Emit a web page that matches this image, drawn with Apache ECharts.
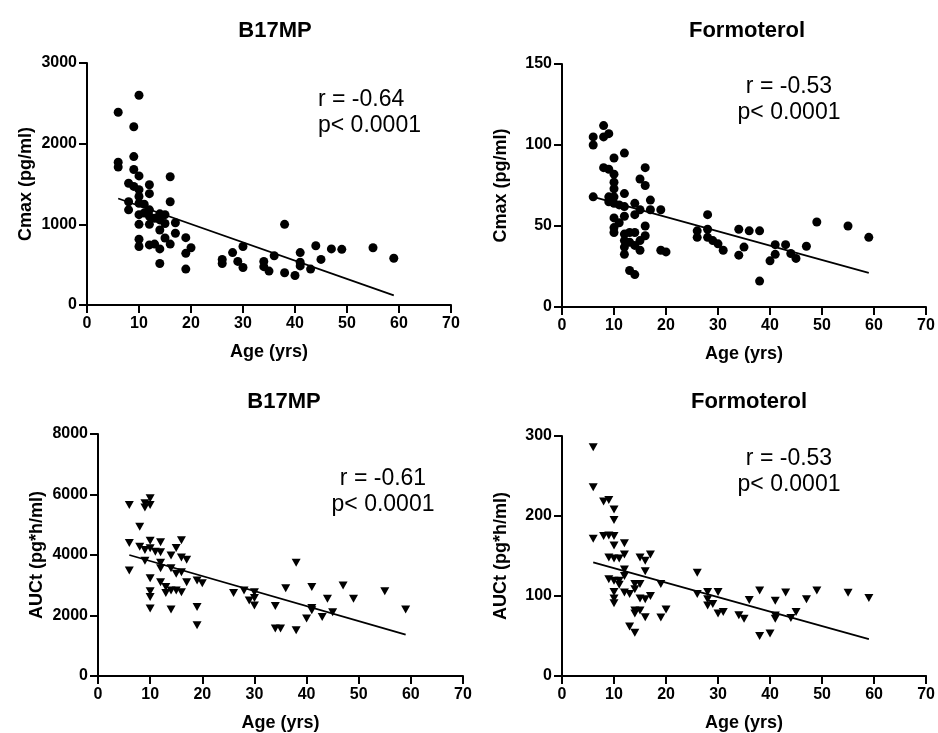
<!DOCTYPE html>
<html>
<head>
<meta charset="utf-8">
<script src="https://cdn.jsdelivr.net/npm/echarts@6/dist/echarts.min.js"></script>
<style>html,body{margin:0;padding:0;background:#fff;}#c{width:938px;height:733px;}</style>
</head>
<body>
<div id="c"></div>
<script>
// ---- Data ----
const xTicks = [0, 10, 20, 30, 40, 50, 60, 70];
const titles = ['B17MP', 'Formoterol', 'B17MP', 'Formoterol'];
const yNames = ['Cmax (pg/ml)', 'Cmax (pg/ml)', 'AUCt (pg*h/ml)', 'AUCt (pg*h/ml)'];
const xName = 'Age (yrs)';
const rTexts = ['r = -0.64', 'r = -0.53', 'r = -0.61', 'r = -0.53'];
const pText = 'p< 0.0001';
const yMax = [3000, 150, 8000, 300];
const yInterval = [1000, 50, 2000, 100];

// Panel 1: B17MP Cmax
const age1 = [10,6,9,9,6,6,9,10,16,8,12,9,10,12,10,16,8,10,11,8,12,11,10,12,14,15,13,14,15,10,12,17,14,17,10,15,19,10,12,13,14,16,20,19,14,19,26,26,28,29,30,30,34,34,35,36,38,38,40,41,41,41,43,44,45,47,49,55,59];
const val1 = [2600,2390,2210,1840,1770,1710,1680,1600,1590,1510,1490,1470,1430,1380,1345,1280,1280,1260,1250,1180,1180,1140,1120,1100,1130,1120,1075,1055,1010,1000,1000,1020,930,890,815,830,835,725,745,755,695,755,710,640,515,445,565,515,650,540,725,465,540,475,420,610,1000,400,365,650,530,485,445,735,565,695,690,710,580];
const trend1X = [6, 59];
const trend1Y = [1320, 120];

// Panel 2: Formoterol Cmax
const age2 = [8,6,6,8,9,10,12,8,9,10,16,15,16,10,10,6,9,12,10,9,10,11,12,14,17,15,17,19,14,10,11,12,16,10,10,12,13,14,16,12,13,15,12,14,15,12,19,20,13,14,26,26,28,28,28,29,30,31,34,34,35,36,38,38,41,43,41,40,44,45,47,49,55,59];
const val2 = [112,105,100,105,107,92,95,86,85,82,86,79,75,77,73,68,68,70,68,65,64,63,62,64,66,60,60,60,57,55,52,56,50,49,46,45,46,46,44,41,40,41,37,38,35,32.5,35,34,22.5,20,47,43,57,48,43,41,39,35,48,32,37,47,47,16,38.5,38.5,32.5,28.5,33,30,37.5,52.5,50,43];
const trend2X = [6, 59];
const trend2Y = [68, 21];

// Panel 3: B17MP AUCt
const age3 = [6,10,9,9,10,8,6,10,12,16,8,9,10,11,12,15,14,16,17,6,9,12,12,14,15,16,10,12,13,17,19,20,13,14,15,16,10,10,10,14,19,19,26,28,30,29,30,30,34,34,35,36,38,38,41,44,41,41,40,43,45,47,49,55,59];
const val3 = [5650,5880,5710,5570,5650,4930,4400,4470,4420,4490,4270,4165,4220,4110,4090,4230,3980,3920,3840,3490,3810,3740,3560,3560,3380,3430,3230,3100,2940,3100,3160,3070,2740,2830,2830,2770,2800,2610,2230,2200,2280,1680,2740,2830,2770,2500,2580,2330,2310,1570,1570,2900,3740,1510,2940,2550,2250,2170,1900,1950,2110,2990,2550,2800,2200];
const trend3X = [6, 59];
const trend3Y = [4000, 1370];

// Panel 4: Formoterol AUCt
const age4 = [6,6,8,9,10,10,6,8,9,10,10,12,9,10,11,12,15,16,17,16,12,9,10,11,12,11,14,15,19,10,12,13,14,10,10,15,16,17,14,15,14,16,20,19,13,14,26,26,28,30,28,28,29,30,31,34,35,36,38,41,43,47,49,55,59,38,40,41,41,44,45];
const val4 = [286,236,218,220,208,195,171.5,175,175.5,175,163,166,148,147,147,152,148,144,152,131,133,121,119,119,125,114,115,115,115,105,104.5,102.5,108.5,97,91,97,96,100,82,82,78,73.5,83,73,62,54,129,102.5,105,105,96,88,90,78,80,76,71.5,95,107,94,104.5,96,107,104,97.5,50,53,75.5,71.5,72.5,80];
const trend4X = [6, 59];
const trend4Y = [142, 46];

// ---- Build ----
const FONT = 'Liberation Sans, Arial, Helvetica, sans-serif';
const zip = (a, b) => a.map((v, i) => [v, b[i]]);
const grids = [
  {left: 87, top: 63, width: 364, height: 242},
  {left: 562, top: 64, width: 364, height: 243},
  {left: 98, top: 434, width: 365, height: 244},
  {left: 562, top: 436, width: 365, height: 242}
];
const ages = [age1, age2, age3, age4];
const vals = [val1, val2, val3, val4];
const trX = [trend1X, trend2X, trend3X, trend4X];
const trY = [trend1Y, trend2Y, trend3Y, trend4Y];

const axisCommon = {
  axisLine: {show: true, onZero: false, lineStyle: {color: '#000', width: 2}},
  axisTick: {show: true, inside: false, length: 8, lineStyle: {color: '#000', width: 2}},
  splitLine: {show: false},
  axisLabel: {color: '#000', fontFamily: FONT, fontWeight: 'bold', fontSize: 16, formatter: v => String(v)}
};

const xAxes = grids.map((g, i) => Object.assign({}, axisCommon, {
  type: 'value', gridIndex: i, min: xTicks[0], max: xTicks[xTicks.length - 1], interval: 10,
  name: xName, nameLocation: 'middle', nameGap: 38,
  nameTextStyle: {color: '#000', fontFamily: FONT, fontWeight: 'bold', fontSize: 18},
  axisLabel: Object.assign({}, axisCommon.axisLabel, {margin: 11, showMaxLabel: true, showMinLabel: true})
}));
const yAxes = grids.map((g, i) => Object.assign({}, axisCommon, {
  type: 'value', gridIndex: i, min: 0, max: yMax[i], interval: yInterval[i],
  name: yNames[i], nameLocation: 'middle', nameRotate: 90, nameGap: 52,
  nameTextStyle: {color: '#000', fontFamily: FONT, fontWeight: 'bold', fontSize: 18},
  axisLabel: Object.assign({}, axisCommon.axisLabel, {margin: 10, showMaxLabel: true, showMinLabel: true})
}));

const series = [];
for (let i = 0; i < 4; i++) {
  const circle = i < 2;
  series.push({
    type: 'scatter', xAxisIndex: i, yAxisIndex: i,
    data: zip(ages[i], vals[i]),
    symbol: circle ? 'circle' : 'triangle',
    symbolRotate: circle ? 0 : 180,
    symbolSize: circle ? 9 : [9, 8],
    itemStyle: {color: '#000', opacity: 1},
    silent: true, z: 3
  });
  series.push({
    type: 'line', xAxisIndex: i, yAxisIndex: i,
    data: zip(trX[i], trY[i]),
    showSymbol: false, symbol: 'none',
    lineStyle: {color: '#000', width: 1.8},
    silent: true, z: 2
  });
}

const titleCenters = [[270, 15], [742, 15], [279, 386], [744, 386]];
const title = titles.map((t, i) => ({
  text: t, left: titleCenters[i][0], top: titleCenters[i][1], textAlign: 'center',
  textStyle: {color: '#000', fontFamily: FONT, fontWeight: 'bold', fontSize: 22}
}));

const annPos = [
  {x: 318, y: 87, align: 'left'},
  {x: 789, y: 74, align: 'center'},
  {x: 383, y: 466, align: 'center'},
  {x: 789, y: 446, align: 'center'}
];
const graphic = annPos.map((p, i) => ({
  type: 'text', x: p.x, y: p.y, silent: true,
  style: {
    text: rTexts[i] + '\n' + pText, fill: '#000', align: p.align, verticalAlign: 'top',
    font: '23px ' + FONT, lineHeight: 26
  }
}));

const chart = echarts.init(document.getElementById('c'), null, {renderer: 'canvas'});
chart.setOption({
  animation: false,
  backgroundColor: '#fff',
  title: title,
  grid: grids,
  xAxis: xAxes,
  yAxis: yAxes,
  series: series,
  graphic: graphic
});
</script>
</body>
</html>
